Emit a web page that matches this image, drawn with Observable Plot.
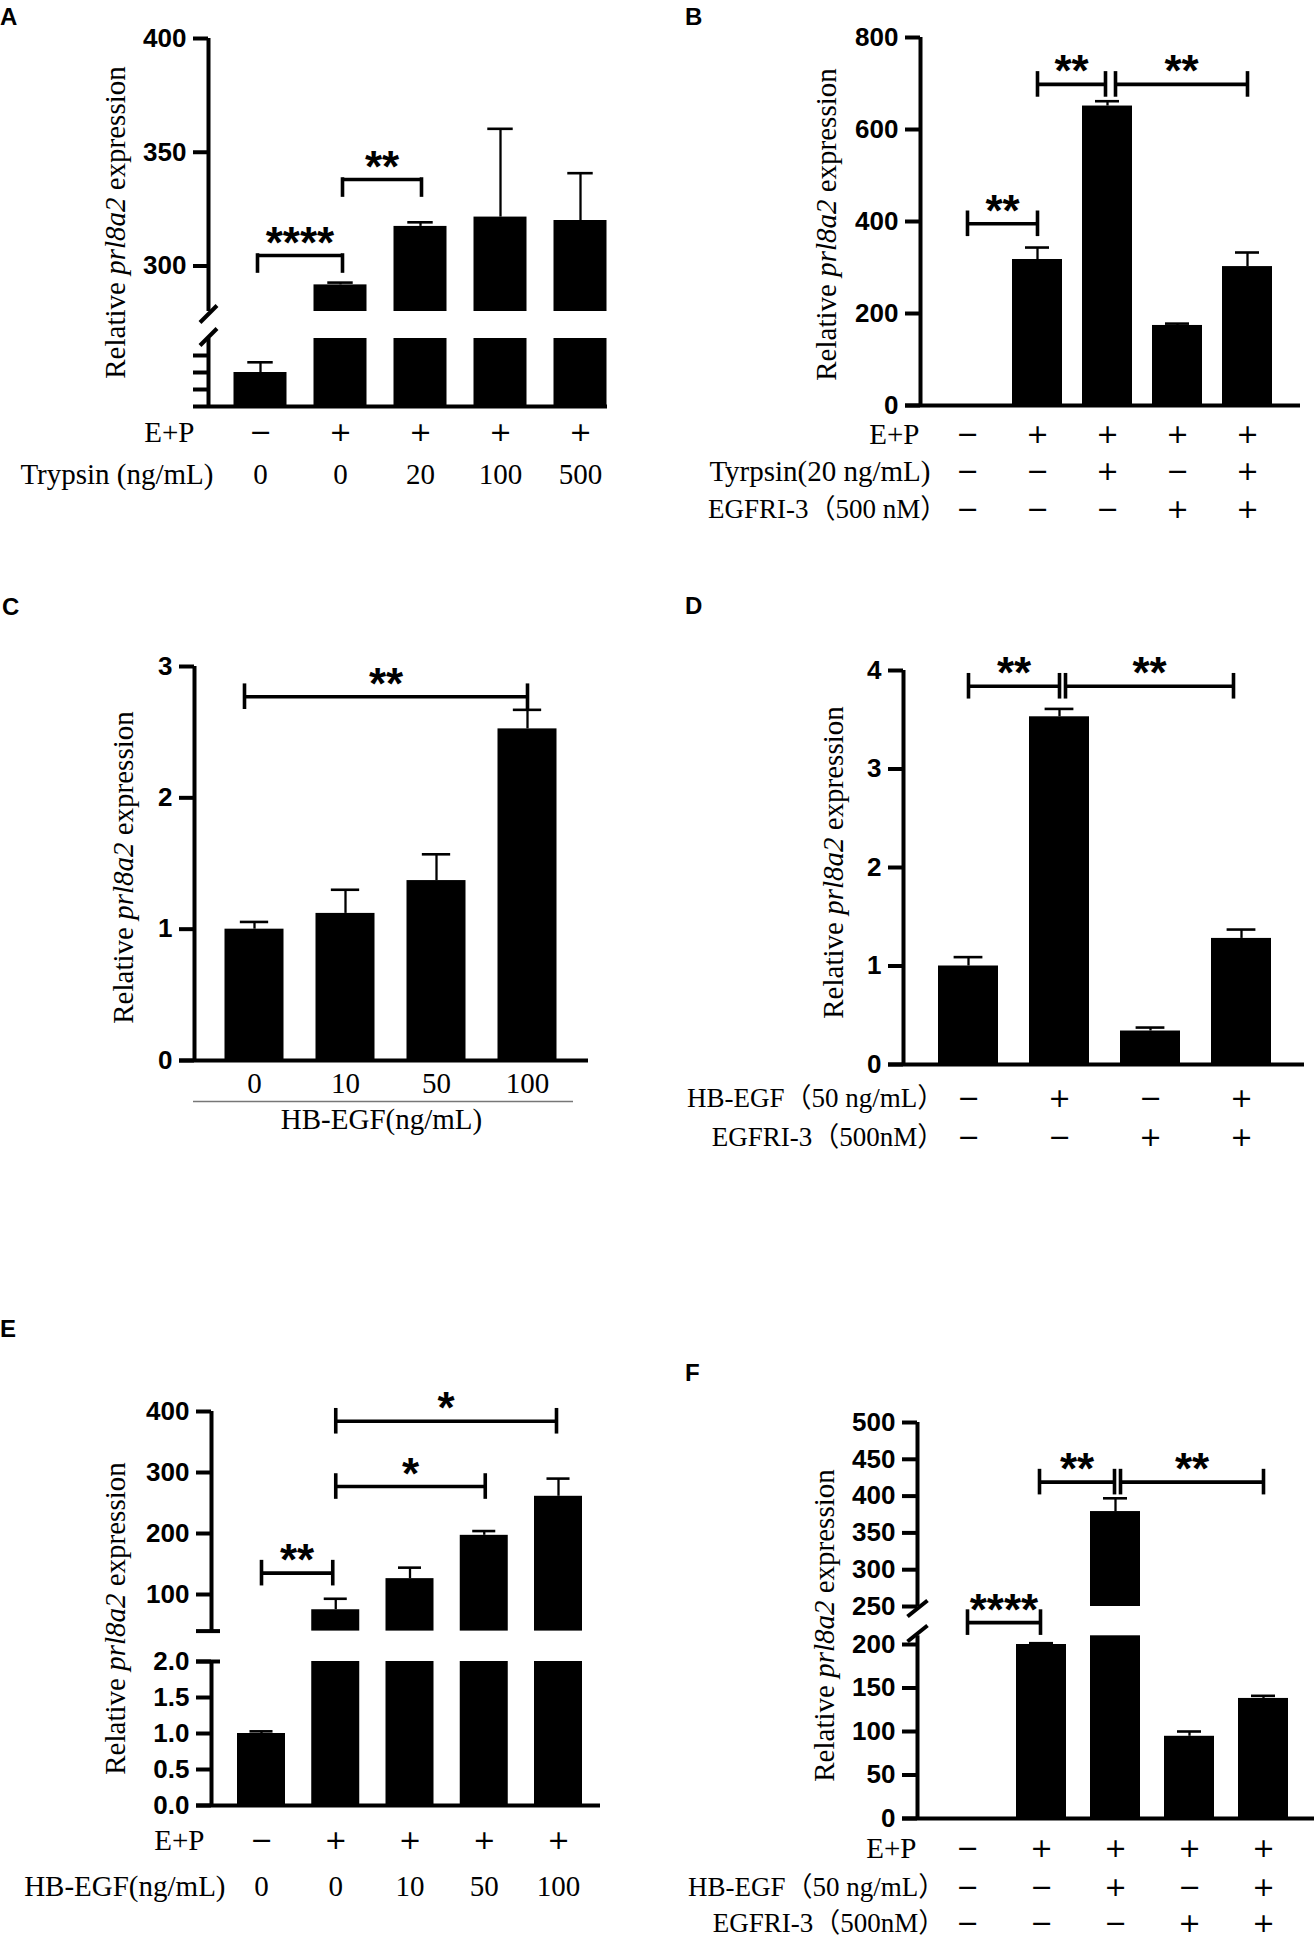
<!DOCTYPE html>
<html><head><meta charset="utf-8">
<script src="https://cdn.jsdelivr.net/npm/d3@7"></script>
<script src="https://cdn.jsdelivr.net/npm/@observablehq/plot@0.6"></script>
<style>
body{margin:0;background:#fff;}
#fig{position:relative;width:1316px;height:1939px;overflow:hidden;background:#fff;}
#fig svg{position:absolute;overflow:visible;}
.letter{position:absolute;font:bold 24px "Liberation Sans",Arial,sans-serif;line-height:24px;color:#000;}
</style></head><body><div id="fig"></div>
<script>
// ================= DATA =================
const YLABEL = "Relative prl8a2 expression";

// Panel A
const A_EP      = ["−","+","+","+","+"];
const A_trypsin = ["0","0","20","100","500"];
const A_mean    = [1.0, 291.7, 317.4, 321.5, 320.0];
const A_sem     = [0.3, 1.0, 1.8, 38.8, 20.8];
const A_ticksUpper = [300, 350, 400];
const A_ticksLower = [0.5, 1, 1.5];
const A_sig = [{from: 0, to: 1, y: 304.6, label: "****"}, {from: 1, to: 2, y: 338, label: "**"}];

// Panel B
const B_EP      = ["−","+","+","+","+"];
const B_trypsin = ["−","−","+","−","+"];
const B_egfri   = ["−","−","−","+","+"];
const B_mean    = [1, 317.4, 651, 174, 302];
const B_sem     = [0, 26, 10.5, 4, 30.6];
const B_ticks   = [0, 200, 400, 600, 800];
const B_sig = [{from: 0, to: 1, y: 395, label: "**"}, {from: 1, to: 2, y: 698, label: "**"}, {from: 2, to: 4, y: 698, label: "**"}];

// Panel C
const C_dose  = ["0","10","50","100"];
const C_mean  = [1.0, 1.12, 1.37, 2.525];
const C_sem   = [0.055, 0.18, 0.2, 0.145];
const C_ticks = [0, 1, 2, 3];
const C_sig = [{from: 0, to: 3, y: 2.77, label: "**"}];

// Panel D
const D_hbegf = ["−","+","−","+"];
const D_egfri = ["−","−","+","+"];
const D_mean  = [1.0, 3.53, 0.34, 1.28];
const D_sem   = [0.09, 0.08, 0.035, 0.09];
const D_ticks = [0, 1, 2, 3, 4];
const D_sig = [{from: 0, to: 1, y: 3.84, label: "**"}, {from: 1, to: 3, y: 3.84, label: "**"}];

// Panel E
const E_EP    = ["−","+","+","+","+"];
const E_dose  = ["0","0","10","50","100"];
const E_mean  = [1.0, 75, 126, 197, 261];
const E_sem   = [0.03, 18, 18, 7, 29];
const E_ticksUpper = [100, 200, 300, 400];
const E_ticksLower = [0, 0.5, 1, 1.5, 2];
const E_sig = [{from: 0, to: 1, y: 135, label: "**"}, {from: 1, to: 3, y: 277, label: "*"}, {from: 1, to: 4, y: 384, label: "*"}];

// Panel F
const F_EP    = ["−","+","+","+","+"];
const F_hbegf = ["−","−","+","−","+"];
const F_egfri = ["−","−","−","+","+"];
const F_mean  = [1, 200, 379, 94.5, 138];
const F_sem   = [0, 1.5, 18, 5.5, 3];
const F_ticksUpper = [250, 300, 350, 400, 450, 500];
const F_ticksLower = [0, 50, 100, 150, 200];
const F_sig = [{from: 0, to: 1, y: 228, label: "****"}, {from: 1, to: 2, y: 419, label: "**"}, {from: 2, to: 4, y: 419, label: "**"}];

// ================= DRAWING =================
const SANS = "'Liberation Sans', Arial, Helvetica, sans-serif";
const SERIF = "'Liberation Serif', 'Times New Roman', 'Noto Sans CJK SC', serif";
const SIGNF = "'DejaVu Sans', sans-serif";
const fig = document.getElementById("fig");
const fInt = d3.format("d"), f1 = d3.format(".1f");
const ROWFONT = 29, CJKROWFONT = 27, SIGNFONT = 27, STARFONT = 44;

function drawPanel(c) {
  const n = c.mean.length;
  const idx = d3.range(n);
  const ys = d3.scaleLinear(c.yDomain, c.yRange);
  const yAt = (v, dpx) => ys.invert(ys(v) + dpx);
  const xi = p => (p - c.c0) / c.step;
  const hw = c.bw / 2 / c.step;
  const capHw = c.bw * 0.24 / c.step;
  const axisI = xi(c.axisX);
  const segs = c.segs || [[c.yDomain[0], c.yDomain[c.yDomain.length - 1]]];
  const pieces = [];
  idx.forEach(i => segs.forEach(([lo, hi]) => {
    if (c.mean[i] > lo) pieces.push({i, y1: lo, y2: Math.min(c.mean[i], hi)});
  }));
  const errs = idx.filter(i => c.sem[i] > 0).map(i => ({i, y1: c.mean[i], y2: c.mean[i] + c.sem[i]}));
  const marks = [];
  // bars
  marks.push(Plot.rect(pieces, {x1: d => d.i - hw, x2: d => d.i + hw, y1: "y1", y2: "y2", fill: "black"}));
  // error bars
  marks.push(Plot.ruleX(errs, {x: "i", y1: "y1", y2: "y2", strokeWidth: 2.3}));
  marks.push(Plot.ruleY(errs, {y: "y2", x1: d => d.i - capHw, x2: d => d.i + capHw, strokeWidth: 2.6}));
  // y-axis line (segments)
  marks.push(Plot.ruleX(segs, {x: () => axisI, y1: d => d[0], y2: d => d[1], strokeWidth: 4}));
  // ticks
  c.ticks.forEach(t => marks.push(Plot.axisY({
    ticks: t.values, tickFormat: t.format, tickSize: 15, tickPadding: 7,
    strokeWidth: 4, fontSize: 26, fontWeight: "bold", fontFamily: SANS, label: null
  })));
  if (c.caps) marks.push(Plot.ruleY(c.caps, {y: d => d, x1: axisI - 15 / c.step, x2: axisI + 9 / c.step, strokeWidth: 4}));
  // x-axis line
  marks.push(Plot.ruleY([c.yDomain[0]], {y: d => d, x1: () => xi(c.axisX - 15), x2: () => xi(c.right), strokeWidth: 4}));
  // break slashes
  if (c.slashes) {
    const sl = c.slashes.map(([pb, pt]) => ({x1: axisI - c.slashHalf / c.step, y1: ys.invert(pb), x2: axisI + c.slashHalf / c.step, y2: ys.invert(pt)}));
    marks.push(Plot.link(sl, {x1: "x1", y1: "y1", x2: "x2", y2: "y2", strokeWidth: 4}));
  }
  // significance brackets
  const nudge = c.sigNudge || [];
  const sig = c.sig.map((s, k) => ({...s, a: s.from + ((nudge[k] || [0, 0])[0]) / c.step, b: s.to + ((nudge[k] || [0, 0])[1]) / c.step}));
  marks.push(Plot.ruleY(sig, {y: "y", x1: "a", x2: "b", strokeWidth: 3.6}));
  const ends = sig.flatMap(s => [s.a, s.b].map(x => c.sigStyle === "pi"
    ? {x, y1: s.y, y2: yAt(s.y, 16)}
    : {x, y1: yAt(s.y, -11), y2: yAt(s.y, 11)}));
  marks.push(Plot.ruleX(ends, {x: "x", y1: "y1", y2: "y2", strokeWidth: 3.6, strokeLinecap: "square"}));
  marks.push(Plot.text(sig, {x: d => (d.a + d.b) / 2, y: "y", text: "label", lineAnchor: "middle", dy: -24 + 0.27 * STARFONT, fontSize: STARFONT, fontWeight: "bold", fontFamily: SANS}));
  // condition rows under the axis
  c.rows.forEach(r => {
    if (r.vals) marks.push(Plot.text(idx, {
      x: i => i, text: i => r.vals[i], frameAnchor: "bottom", lineAnchor: "middle", dy: r.y - c.axisY,
      fontSize: r.sign ? SIGNFONT : ROWFONT, fontFamily: r.sign ? SIGNF : SERIF
    }));
    if (r.label) {
      const cjk = r.label.includes("）");
      const fs = cjk ? CJKROWFONT : ROWFONT;
      const end = r.end + (cjk ? 0.62 * fs : 0);
      marks.push(Plot.text([r.label], {frameAnchor: "bottom-left", textAnchor: "end", lineAnchor: "middle", dx: end - c.axisX, dy: r.y - c.axisY, fontSize: fs, fontFamily: SERIF}));
    }
  });
  if (c.extra) c.extra(marks, xi);
  // y label
  marks.push(Plot.text([YLABEL], {frameAnchor: "top-left", textAnchor: "middle", lineAnchor: "middle", dx: c.ylabel[0] - c.axisX, dy: c.ylabel[1] - c.top0, rotate: -90, fontSize: 29, fontFamily: SERIF}));

  const svg = Plot.plot({
    width: c.width, height: c.height,
    marginLeft: c.axisX, marginTop: c.top0, marginRight: c.width - c.right, marginBottom: c.height - c.axisY,
    x: {type: "linear", domain: [0, n - 1], range: [c.c0, c.c0 + (n - 1) * c.step], axis: null},
    y: {type: "linear", domain: c.yDomain, range: c.yRange, axis: null},
    style: {background: "transparent", overflow: "visible", color: "black"},
    marks
  });
  svg.style.left = c.left + "px";
  svg.style.top = c.top + "px";
  // italicise the gene name inside the y label
  svg.querySelectorAll("text").forEach(t => {
    if (t.textContent !== YLABEL) return;
    t.textContent = "";
    const ns = "http://www.w3.org/2000/svg";
    [["Relative ", "normal"], ["prl8a2", "italic"], [" expression", "normal"]].forEach(([s, st]) => {
      const ts = document.createElementNS(ns, "tspan");
      ts.setAttribute("font-style", st);
      ts.textContent = s;
      t.appendChild(ts);
    });
  });
  fig.appendChild(svg);
  const L = document.createElement("div");
  L.className = "letter";
  L.textContent = c.letter[0];
  L.style.left = c.letter[1] + "px";
  L.style.top = (c.letter[2] - 20.3) + "px";
  fig.appendChild(L);
}

// Panel A
drawPanel({
  letter: ["A", 0, 25],
  left: 0, top: 0, width: 640, height: 560,
  axisX: 208, axisY: 406, top0: 38, right: 607,
  c0: 260, step: 80, bw: 53,
  yDomain: [0, 2, 280, 400], yRange: [406, 338, 311, 38], segs: [[0, 2], [280, 400]],
  ticks: [{values: A_ticksUpper, format: fInt}, {values: A_ticksLower, format: () => ""}],
  slashes: [[322, 305], [345, 328]], slashHalf: 8.5,
  mean: A_mean, sem: A_sem,
  sig: A_sig, sigStyle: "pi", sigNudge: [[-3, 2], [2, 1]],
  ylabel: [115, 222],
  rows: [
    {label: "E+P", vals: A_EP, y: 432, end: 194, sign: true},
    {label: "Trypsin (ng/mL)", vals: A_trypsin, y: 474, end: 213}
  ]
});

// Panel B
drawPanel({
  letter: ["B", 685, 25],
  left: 640, top: 0, width: 676, height: 560,
  axisX: 280, axisY: 405, top0: 37, right: 660,
  c0: 327, step: 70, bw: 50,
  yDomain: [0, 800], yRange: [405, 37],
  ticks: [{values: B_ticks, format: fInt}],
  mean: B_mean, sem: B_sem,
  sig: B_sig, sigNudge: [[0, 0], [0, -2], [8, 0]],
  ylabel: [186, 224],
  rows: [
    {label: "E+P", vals: B_EP, y: 434, end: 279, sign: true},
    {label: "Tyrpsin(20 ng/mL)", vals: B_trypsin, y: 471, end: 290, sign: true},
    {label: "EGFRI-3（500 nM）", vals: B_egfri, y: 509, end: 290, sign: true}
  ]
});

// Panel C
drawPanel({
  letter: ["C", 2, 615],
  left: 0, top: 590, width: 640, height: 560,
  axisX: 194, axisY: 470, top0: 76, right: 588,
  c0: 254, step: 91, bw: 59,
  yDomain: [0, 3], yRange: [470, 76],
  ticks: [{values: C_ticks, format: fInt}],
  mean: C_mean, sem: C_sem,
  sig: C_sig, sigNudge: [[-10, 0]],
  ylabel: [123, 277],
  rows: [{vals: C_dose, y: 493}],
  extra: (marks, xi) => {
    marks.push(Plot.ruleY([0], {y: d => d, x1: () => xi(193), x2: () => xi(573), dy: 41, stroke: "#777", strokeWidth: 1.5}));
    marks.push(Plot.text(["HB-EGF(ng/mL)"], {x: () => xi(381), frameAnchor: "bottom", lineAnchor: "middle", dy: 59, fontSize: ROWFONT, fontFamily: SERIF}));
  }
});

// Panel D
drawPanel({
  letter: ["D", 685, 614],
  left: 640, top: 590, width: 676, height: 590,
  axisX: 263, axisY: 474, top0: 80, right: 664,
  c0: 328, step: 91, bw: 60,
  yDomain: [0, 4], yRange: [474, 80],
  ticks: [{values: D_ticks, format: fInt}],
  mean: D_mean, sem: D_sem,
  sig: D_sig, sigNudge: [[0, 0], [6, -8]],
  ylabel: [193, 272],
  rows: [
    {label: "HB-EGF（50 ng/mL）", vals: D_hbegf, y: 508, end: 287, sign: true},
    {label: "EGFRI-3（500nM）", vals: D_egfri, y: 547, end: 287, sign: true}
  ]
});

// Panel E
drawPanel({
  letter: ["E", 0, 1337],
  left: 0, top: 1280, width: 640, height: 659,
  axisX: 211, axisY: 525, top0: 131, right: 600,
  c0: 261, step: 74.25, bw: 48,
  yDomain: [0, 2, 40, 400], yRange: [525, 381, 350.6, 131], segs: [[0, 2], [40, 400]],
  ticks: [{values: E_ticksUpper, format: fInt}, {values: E_ticksLower, format: f1}],
  caps: [40, 2],
  mean: E_mean, sem: E_sem,
  sig: E_sig, sigNudge: [[0, -3], [0, 1], [0, -2]],
  ylabel: [115, 338],
  rows: [
    {label: "E+P", vals: E_EP, y: 560, end: 204, sign: true},
    {label: "HB-EGF(ng/mL)", vals: E_dose, y: 606, end: 225}
  ]
});

// Panel F
drawPanel({
  letter: ["F", 685, 1381],
  left: 640, top: 1280, width: 676, height: 659,
  axisX: 277, axisY: 538, top0: 142, right: 674,
  c0: 327, step: 74, bw: 50,
  yDomain: [0, 210, 250, 500], yRange: [538, 355.3, 326, 142], segs: [[0, 210], [250, 500]],
  ticks: [{values: F_ticksUpper, format: fInt}, {values: F_ticksLower, format: fInt}],
  slashes: [[336, 320], [361, 345]], slashHalf: 10,
  mean: F_mean, sem: F_sem,
  sig: F_sig, sigNudge: [[0, -1], [-2, -1], [5, 0]],
  ylabel: [184, 345],
  rows: [
    {label: "E+P", vals: F_EP, y: 568, end: 276, sign: true},
    {label: "HB-EGF（50 ng/mL）", vals: F_hbegf, y: 607, end: 288, sign: true},
    {label: "EGFRI-3（500nM）", vals: F_egfri, y: 643, end: 288, sign: true}
  ]
});
</script></body></html>
